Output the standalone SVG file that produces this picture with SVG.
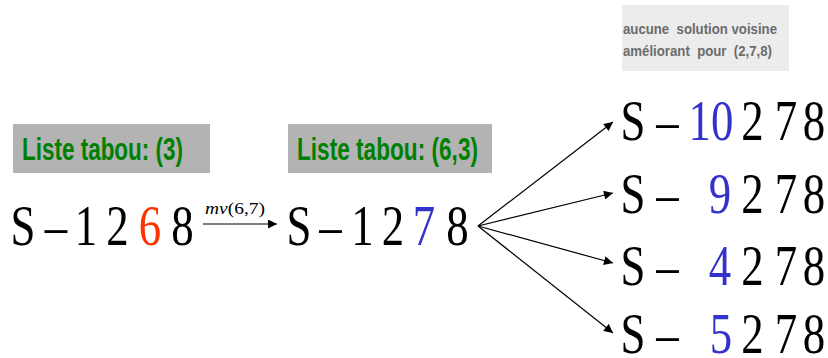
<svg xmlns="http://www.w3.org/2000/svg" width="828" height="358" viewBox="0 0 828 358">
  <style>
    .tabu { fill: #b3b3b3; }
    .tabu-text { font-family: "Liberation Sans", Arial, sans-serif; font-size: 32px; font-weight: bold; fill: #008000; }
    .note { fill: #ececec; }
    .note-text { font-family: "Liberation Sans", Arial, sans-serif; font-size: 15px; font-weight: bold; fill: #6b6b6b; white-space: pre; }
    .sol text { font-family: "Liberation Serif", "Times New Roman", serif; font-size: 56px; fill: #000; }
    .sol .red { fill: #ff3300; }
    .sol .blue { fill: #3333cc; }
    .mv { font-family: "Liberation Serif", "Times New Roman", serif; font-size: 17px; fill: #000; }
    .conn line { stroke: #000; stroke-width: 1.2; fill: none; }
  </style>
  <defs>
    <marker id="arrow" viewBox="0 0 10 10" refX="10" refY="5" markerWidth="10" markerHeight="9" markerUnits="userSpaceOnUse" orient="auto">
      <path d="M0,0 L10,5 L0,10 z" fill="#000"/>
    </marker>
  </defs>

  <rect width="828" height="358" fill="#fff"/>

  <!-- tabu list labels -->
  <g id="tabu1">
    <rect class="tabu" x="13" y="124" width="197" height="49"/>
    <text class="tabu-text" x="22" y="160" textLength="161" lengthAdjust="spacingAndGlyphs">Liste tabou: (3)</text>
  </g>
  <g id="tabu2">
    <rect class="tabu" x="288" y="124" width="204" height="49"/>
    <text class="tabu-text" x="297" y="160" textLength="181" lengthAdjust="spacingAndGlyphs">Liste tabou: (6,3)</text>
  </g>

  <!-- note -->
  <g id="note">
    <rect class="note" x="622" y="5" width="167" height="66"/>
    <text class="note-text" xml:space="preserve" x="623" y="34" textLength="154" lengthAdjust="spacingAndGlyphs">aucune  solution voisine</text>
    <text class="note-text" xml:space="preserve" x="623" y="56" textLength="149" lengthAdjust="spacingAndGlyphs">améliorant  pour  (2,7,8)</text>
  </g>

  <!-- solutions: each glyph squeezed to 80% of its advance -->
  <g id="s0" class="sol">
    <text x="10.55" y="245" textLength="24.9" lengthAdjust="spacingAndGlyphs">S</text>
    <text x="44.8" y="245" textLength="22.4" lengthAdjust="spacingAndGlyphs">–</text>
    <text x="74.8" y="245" textLength="22.4" lengthAdjust="spacingAndGlyphs">1</text>
    <text x="106.3" y="245" textLength="22.4" lengthAdjust="spacingAndGlyphs">2</text>
    <text class="red" x="138.8" y="245" textLength="22.4" lengthAdjust="spacingAndGlyphs">6</text>
    <text x="171.3" y="245" textLength="22.4" lengthAdjust="spacingAndGlyphs">8</text>
  </g>
  <g id="s1" class="sol">
    <text x="286.55" y="245" textLength="24.9" lengthAdjust="spacingAndGlyphs">S</text>
    <text x="319.3" y="245" textLength="22.4" lengthAdjust="spacingAndGlyphs">–</text>
    <text x="351.3" y="245" textLength="22.4" lengthAdjust="spacingAndGlyphs">1</text>
    <text x="381.8" y="245" textLength="22.4" lengthAdjust="spacingAndGlyphs">2</text>
    <text class="blue" x="412.8" y="245" textLength="22.4" lengthAdjust="spacingAndGlyphs">7</text>
    <text x="446.3" y="245" textLength="22.4" lengthAdjust="spacingAndGlyphs">8</text>
  </g>
  <g id="n1" class="sol">
    <text x="620.55" y="140" textLength="24.9" lengthAdjust="spacingAndGlyphs">S</text>
    <text x="656.3" y="140" textLength="22.4" lengthAdjust="spacingAndGlyphs">–</text>
    <text class="blue" x="688.6" y="140" textLength="44.8" lengthAdjust="spacingAndGlyphs">10</text>
    <text x="741.3" y="140" textLength="22.4" lengthAdjust="spacingAndGlyphs">2</text>
    <text x="774.8" y="140" textLength="22.4" lengthAdjust="spacingAndGlyphs">7</text>
    <text x="802.8" y="140" textLength="22.4" lengthAdjust="spacingAndGlyphs">8</text>
  </g>
  <g id="n2" class="sol">
    <text x="620.55" y="213" textLength="24.9" lengthAdjust="spacingAndGlyphs">S</text>
    <text x="656.3" y="213" textLength="22.4" lengthAdjust="spacingAndGlyphs">–</text>
    <text class="blue" x="708.8" y="213" textLength="22.4" lengthAdjust="spacingAndGlyphs">9</text>
    <text x="741.3" y="213" textLength="22.4" lengthAdjust="spacingAndGlyphs">2</text>
    <text x="774.8" y="213" textLength="22.4" lengthAdjust="spacingAndGlyphs">7</text>
    <text x="802.8" y="213" textLength="22.4" lengthAdjust="spacingAndGlyphs">8</text>
  </g>
  <g id="n3" class="sol">
    <text x="620.55" y="285" textLength="24.9" lengthAdjust="spacingAndGlyphs">S</text>
    <text x="656.3" y="285" textLength="22.4" lengthAdjust="spacingAndGlyphs">–</text>
    <text class="blue" x="708.8" y="285" textLength="22.4" lengthAdjust="spacingAndGlyphs">4</text>
    <text x="741.3" y="285" textLength="22.4" lengthAdjust="spacingAndGlyphs">2</text>
    <text x="774.8" y="285" textLength="22.4" lengthAdjust="spacingAndGlyphs">7</text>
    <text x="802.8" y="285" textLength="22.4" lengthAdjust="spacingAndGlyphs">8</text>
  </g>
  <g id="n4" class="sol">
    <text x="620.55" y="353" textLength="24.9" lengthAdjust="spacingAndGlyphs">S</text>
    <text x="656.3" y="353" textLength="22.4" lengthAdjust="spacingAndGlyphs">–</text>
    <text class="blue" x="709.8" y="353" textLength="22.4" lengthAdjust="spacingAndGlyphs">5</text>
    <text x="741.3" y="353" textLength="22.4" lengthAdjust="spacingAndGlyphs">2</text>
    <text x="774.8" y="353" textLength="22.4" lengthAdjust="spacingAndGlyphs">7</text>
    <text x="802.8" y="353" textLength="22.4" lengthAdjust="spacingAndGlyphs">8</text>
  </g>

  <!-- connectors -->
  <g id="connectors" class="conn">
    <line x1="203" y1="224" x2="277" y2="224" marker-end="url(#arrow)"/>
    <text class="mv" x="205" y="214" textLength="60" lengthAdjust="spacingAndGlyphs"><tspan font-style="italic">mv</tspan>(6,7)</text>
    <line x1="478" y1="226" x2="613" y2="122" marker-end="url(#arrow)"/>
    <line x1="478" y1="226" x2="613" y2="193" marker-end="url(#arrow)"/>
    <line x1="478" y1="226" x2="613" y2="263" marker-end="url(#arrow)"/>
    <line x1="478" y1="226" x2="613" y2="333" marker-end="url(#arrow)"/>
  </g>
</svg>
